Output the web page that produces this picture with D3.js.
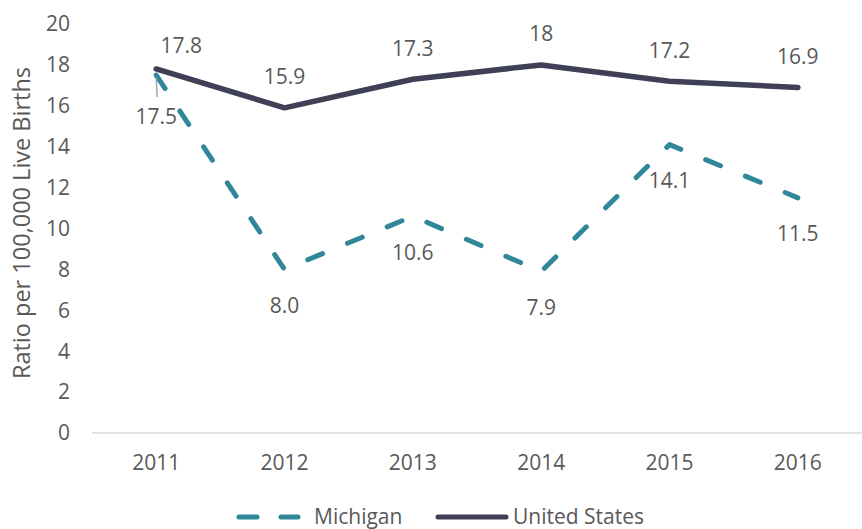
<!DOCTYPE html>
<html>
  <head>
  <title>Maternal Mortality Ratio</title>
  </head>
  <body>
  <style>
    body, html {
      margin: 0;
      padding: 0;
      background: #fff;
    }
    text {
      font-family: "Open Sans", "DejaVu Sans", sans-serif;
      fill: #595959;
    }
  </style>

  <svg id="svg" width="862" height="529"></svg>

  <script src="https://cdn.jsdelivr.net/npm/d3@7"></script>
  <script>
    const years = ['2011', '2012', '2013', '2014', '2015', '2016']
    const michigan = [17.5, 8.0, 10.6, 7.9, 14.1, 11.5]
    const unitedStates = [17.8, 15.9, 17.3, 18, 17.2, 16.9]
    const michiganLabels = ['17.5', '8.0', '10.6', '7.9', '14.1', '11.5']
    const usLabels = ['17.8', '15.9', '17.3', '18', '17.2', '16.9']
    const yTicks = [0, 2, 4, 6, 8, 10, 12, 14, 16, 18, 20]

    const svg = d3.select('#svg')
    const fs = 21

    const xScale = d3.scaleBand()
      .domain(years)
      .range([92, 862])
    const yScale = d3.scaleLinear()
      .domain([0, 20])
      .range([433, 24])
    const cx = d => xScale(d) + xScale.bandwidth() / 2

    // baseline
    svg.append('line')
      .attr('x1', 92).attr('x2', 862)
      .attr('y1', yScale(0)).attr('y2', yScale(0))
      .attr('stroke', '#d9d9d9')
      .attr('stroke-width', 1.5)

    // y tick labels
    svg.selectAll('.ytick')
      .data(yTicks)
      .enter()
      .append('text')
      .attr('x', 70)
      .attr('y', d => yScale(d))
      .attr('dy', '0.35em')
      .attr('text-anchor', 'end')
      .attr('font-size', fs)
      .text(d => d)

    // x tick labels
    svg.selectAll('.xtick')
      .data(years)
      .enter()
      .append('text')
      .attr('x', d => cx(d))
      .attr('y', 463)
      .attr('dy', '0.35em')
      .attr('text-anchor', 'middle')
      .attr('font-size', fs)
      .text(d => d)

    // y axis title
    svg.append('text')
      .attr('transform', 'translate(22,223) rotate(-90)')
      .attr('dy', '0.35em')
      .attr('text-anchor', 'middle')
      .attr('font-size', 23.5)
      .text('Ratio per 100,000 Live Births')

    const linegen = d3.line()
      .x((d, i) => cx(years[i]))
      .y(d => yScale(d))

    svg.append('path')
      .attr('d', linegen(unitedStates))
      .attr('fill', 'none')
      .attr('stroke', '#3f3f55')
      .attr('stroke-width', 5.5)
      .attr('stroke-linejoin', 'round')
      .attr('stroke-linecap', 'round')

    svg.append('path')
      .attr('d', linegen(michigan))
      .attr('fill', 'none')
      .attr('stroke', '#31879a')
      .attr('stroke-width', 5)
      .attr('stroke-dasharray', '16,27')
      .attr('stroke-linejoin', 'round')
      .attr('stroke-linecap', 'round')

    // leader line for 2011 Michigan label
    svg.append('line')
      .attr('x1', cx('2011')).attr('x2', cx('2011') + 1)
      .attr('y1', yScale(michigan[0]) + 3).attr('y2', yScale(michigan[0]) + 22)
      .attr('stroke', '#a6a6a6')
      .attr('stroke-width', 1.5)

    // US labels (above)
    svg.selectAll('.uslabel')
      .data(unitedStates)
      .enter()
      .append('text')
      .attr('x', (d, i) => cx(years[i]) + (i === 0 ? 25 : 0))
      .attr('y', (d, i) => yScale(d) - (i === 0 ? 23 : 31))
      .attr('dy', '0.35em')
      .attr('text-anchor', 'middle')
      .attr('font-size', fs)
      .attr('fill', '#404040')
      .text((d, i) => usLabels[i])

    // Michigan labels (below)
    svg.selectAll('.milabel')
      .data(michigan)
      .enter()
      .append('text')
      .attr('x', (d, i) => cx(years[i]))
      .attr('y', (d, i) => yScale(d) + (i === 0 ? 42 : 36))
      .attr('dy', '0.35em')
      .attr('text-anchor', 'middle')
      .attr('font-size', fs)
      .attr('fill', '#404040')
      .text((d, i) => michiganLabels[i])

    // legend
    const legend = svg.append('g')
    legend.append('line')
      .attr('x1', 239).attr('x2', 298)
      .attr('y1', 517).attr('y2', 517)
      .attr('stroke', '#31879a')
      .attr('stroke-width', 5)
      .attr('stroke-dasharray', '18,24')
      .attr('stroke-linecap', 'round')
    legend.append('text')
      .attr('x', 314).attr('y', 517)
      .attr('dy', '0.35em')
      .attr('font-size', fs)
      .text('Michigan')
    legend.append('line')
      .attr('x1', 438).attr('x2', 506)
      .attr('y1', 517).attr('y2', 517)
      .attr('stroke', '#3f3f55')
      .attr('stroke-width', 5)
      .attr('stroke-linecap', 'round')
    legend.append('text')
      .attr('x', 513).attr('y', 517)
      .attr('dy', '0.35em')
      .attr('font-size', fs)
      .text('United States')
  </script>
  </body>
</html>
